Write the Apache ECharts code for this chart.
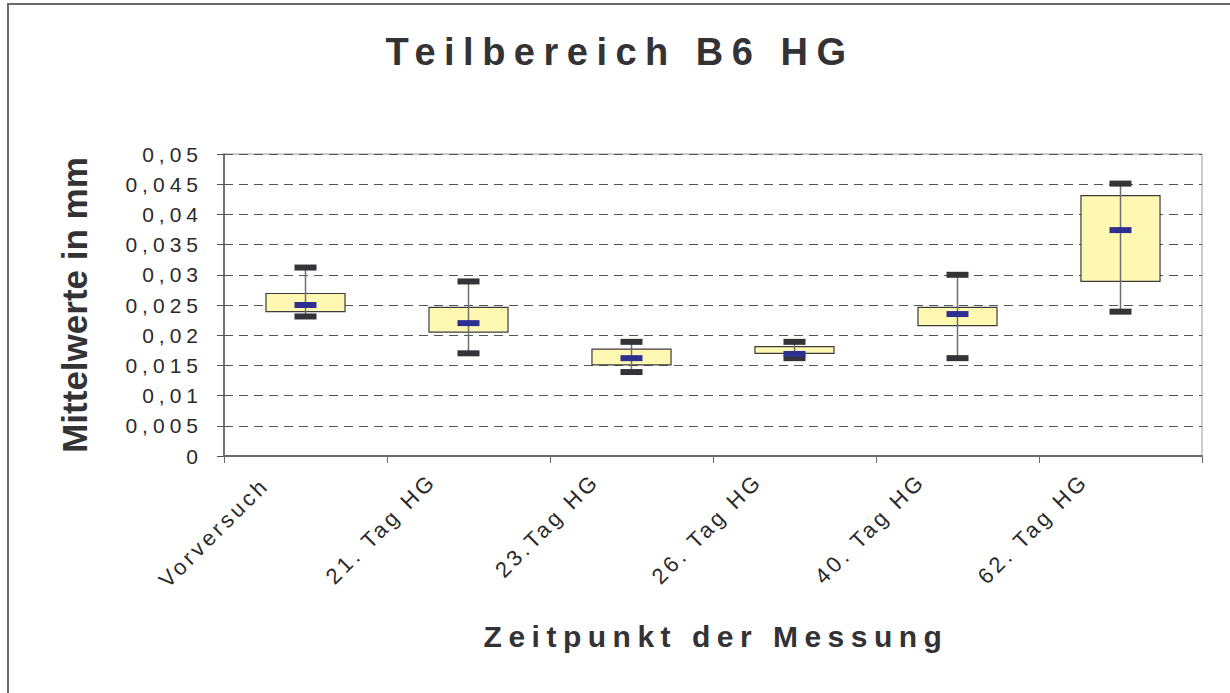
<!DOCTYPE html>
<html>
<head>
<meta charset="utf-8">
<title>Teilbereich B6 HG</title>
<script src="https://cdn.jsdelivr.net/npm/echarts@6.0.0/dist/echarts.min.js"></script>
<style>
  html, body { margin: 0; padding: 0; background: #fff; }
  #main { width: 1230px; height: 693px; }
  /* Excel-style spaced lettering (SVG renderer) */
  #main text[style*="38px"] { letter-spacing: 8.5px; }
  #main text[style*="30px"] { letter-spacing: 6.5px; }
  #main text[style*="21px"] { letter-spacing: 5px; }
  #main text[style*="22px"] { letter-spacing: 3.5px; }
</style>
</head>
<body>
<div id="main"></div>
<script>
var categories = ['Vorversuch', '21. Tag HG', '23.Tag HG', '26. Tag HG', '40. Tag HG', '62. Tag HG'];
var maxVals    = [0.0312, 0.0289, 0.0189, 0.0189, 0.0300, 0.0451];
var boxTop     = [0.0269, 0.0246, 0.0177, 0.0181, 0.0246, 0.0431];
var medianVals = [0.0250, 0.0220, 0.0162, 0.0169, 0.0235, 0.0374];
var boxBottom  = [0.0239, 0.0205, 0.0151, 0.0170, 0.0216, 0.0289];
var minVals    = [0.0231, 0.0170, 0.0139, 0.0162, 0.0162, 0.0239];
var yTickLabels = ['0', '0,005', '0,01', '0,015', '0,02', '0,025', '0,03', '0,035', '0,04', '0,045', '0,05'];

var font = '"Liberation Sans", Arial, sans-serif';

var chart = echarts.init(document.getElementById('main'), null, { renderer: 'svg' });

var seriesData = categories.map(function (c, i) {
  return [i, minVals[i], boxBottom[i], medianVals[i], boxTop[i], maxVals[i]];
});

// first label sits a bit further out in the original
var xAxisData = categories.map(function (c, i) {
  return i === 0 ? { value: c, textStyle: { padding: [0, 57, 0, 0] } } : c;
});

function renderItem(params, api) {
  var i = api.value(0);
  var pMin = api.coord([i, api.value(1)]);
  var pQ1 = api.coord([i, api.value(2)]);
  var pMed = api.coord([i, api.value(3)]);
  var pQ3 = api.coord([i, api.value(4)]);
  var pMax = api.coord([i, api.value(5)]);
  var cx = pMin[0];
  var bw = api.size([1, 0])[0] * 0.485;
  var mw = 22, mh = 6;
  return {
    type: 'group',
    children: [
      {
        type: 'rect',
        shape: { x: cx - bw / 2, y: pQ3[1], width: bw, height: pQ1[1] - pQ3[1] },
        style: { fill: '#fff8b2', stroke: '#3c3c3c', lineWidth: 1.2 }
      },
      {
        type: 'line',
        shape: { x1: cx, y1: pMax[1], x2: cx, y2: pMin[1] },
        style: { stroke: '#6e6e6e', lineWidth: 1.5 }
      },
      {
        type: 'rect',
        shape: { x: cx - mw / 2, y: pMax[1] - mh / 2, width: mw, height: mh },
        style: { fill: '#333338' }
      },
      {
        type: 'rect',
        shape: { x: cx - mw / 2, y: pMin[1] - mh / 2, width: mw, height: mh },
        style: { fill: '#333338' }
      },
      {
        type: 'rect',
        shape: { x: cx - mw / 2, y: pMed[1] - mh / 2, width: mw, height: mh },
        style: { fill: '#2d3091' }
      }
    ]
  };
}

chart.setOption({
  backgroundColor: '#fff',
  animation: false,
  graphic: [
    {
      type: 'rect',
      shape: { x: 8, y: 4, width: 1400, height: 900 },
      style: { fill: 'none', stroke: '#6a6a6a', lineWidth: 2 },
      silent: true
    },
    {
      type: 'text',
      x: 620, y: 52,
      style: {
        text: 'Teilbereich B6 HG',
        fontSize: 38, fontWeight: 'bold', fontFamily: font,
        fill: '#333336', textAlign: 'center', textVerticalAlign: 'middle'
      }
    },
    {
      type: 'text',
      x: 716, y: 636,
      style: {
        text: 'Zeitpunkt der Messung',
        fontSize: 30, fontWeight: 'bold', fontFamily: font,
        fill: '#333336', textAlign: 'center', textVerticalAlign: 'middle'
      }
    },
    {
      type: 'text',
      x: 74, y: 305, rotation: Math.PI / 2,
      style: {
        text: 'Mittelwerte in mm',
        fontSize: 35, fontWeight: 'bold', fontFamily: font,
        fill: '#333336', textAlign: 'center', textVerticalAlign: 'middle'
      }
    }
  ],
  grid: {
    left: 224, right: 28, top: 154, bottom: 237,
    show: true, borderColor: '#9a9a9a', borderWidth: 1, backgroundColor: '#fff',
    outerBoundsMode: 'none', containLabel: false
  },
  xAxis: {
    type: 'category',
    data: xAxisData,
    boundaryGap: true,
    axisLine: { lineStyle: { color: '#6a6a6a', width: 2 } },
    axisTick: { show: true, length: 7, alignWithLabel: false, lineStyle: { color: '#6a6a6a', width: 1 } },
    axisLabel: {
      interval: 0, rotate: 45, margin: -15,
      fontSize: 22, fontFamily: font, color: '#2a2a2a',
      padding: [0, 51, 0, 0]
    },
    splitLine: { show: false }
  },
  yAxis: {
    type: 'value',
    min: 0, max: 0.05, interval: 0.005,
    axisLine: { show: true, lineStyle: { color: '#555', width: 1.5 } },
    axisTick: { show: true, length: 7, lineStyle: { color: '#555' } },
    axisLabel: {
      margin: 21, fontSize: 21, fontFamily: font, color: '#2a2a2a',
      formatter: function (v) { return yTickLabels[Math.round(v / 0.005)]; }
    },
    splitLine: { show: true, lineStyle: { color: '#555', width: 1, type: [9, 6] } }
  },
  series: [
    {
      type: 'custom',
      renderItem: renderItem,
      encode: { x: 0, y: [1, 2, 3, 4, 5] },
      data: seriesData,
      z: 5
    }
  ]
});
</script>
</body>
</html>
